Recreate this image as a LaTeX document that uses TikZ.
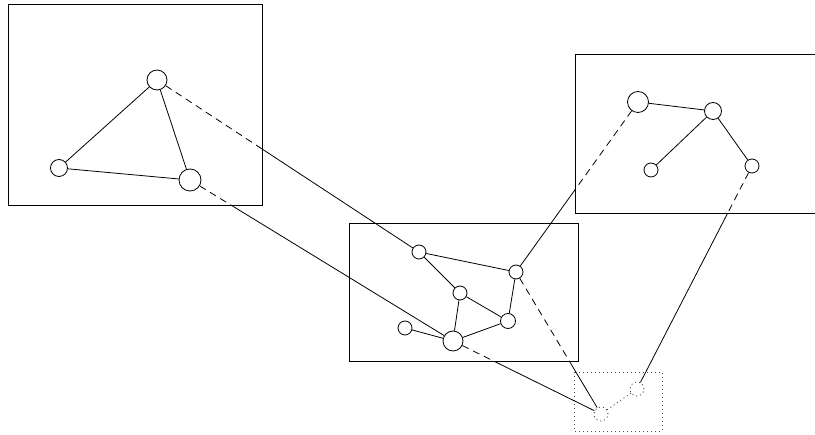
\documentclass[tikz,border=0pt]{standalone}
\usetikzlibrary{intersections}
\begin{document}
\begin{tikzpicture}[x=1pt,y=-1pt,
  frame/.style={line width=1pt},
  vtx/.style={circle,draw,line width=0.8pt,inner sep=0pt,fill=white},
  dotln/.style={line width=0.9pt,black!70,dash pattern=on 1pt off 3pt},
  gvtx/.style={circle,draw,dotln,inner sep=0pt},
  edge/.style={line width=0.8pt},
  dashedge/.style={line width=0.8pt,dash pattern=on 7pt off 5pt}]
\useasboundingbox (0,0) rectangle (815,435);
% frames
\draw[frame,name path=box1] (8,5) rectangle (262,206);
\draw[frame,name path=box2] (349,224) rectangle (578,362);
\draw[frame,name path=box3] (825,55) -- (575,55) -- (575,214) -- (825,214);
\draw[dotln] (574,372) rectangle (662,431);
% nodes
\node[vtx,minimum size=20pt] (t1) at (157,80) {};
\node[vtx,minimum size=17pt] (t2) at (59,168) {};
\node[vtx,minimum size=22pt] (t3) at (190,180) {};
\node[vtx,minimum size=14pt] (A) at (419,252) {};
\node[vtx,minimum size=14pt] (B) at (516,272) {};
\node[vtx,minimum size=14pt] (C) at (460,293) {};
\node[vtx,minimum size=15pt] (D) at (508,321) {};
\node[vtx,minimum size=14pt] (E) at (405,328) {};
\node[vtx,minimum size=20pt] (F) at (453,341) {};
\node[vtx,minimum size=21pt] (G) at (638,102) {};
\node[vtx,minimum size=17pt] (H) at (713,111) {};
\node[vtx,minimum size=14pt] (I) at (651,170) {};
\node[vtx,minimum size=14pt] (J) at (752,166) {};
\node[gvtx,minimum size=14pt] (K) at (601,414) {};
\node[gvtx,minimum size=14pt] (L) at (637,389) {};
% inner edges
\draw[edge] (t1) -- (t2) (t1) -- (t3) (t2) -- (t3);
\draw[edge] (A) -- (B) (A) -- (C) (C) -- (D) (C) -- (F) (B) -- (D) (D) -- (F) (E) -- (F);
\draw[edge] (G) -- (H) (H) -- (I) (H) -- (J);
\draw[dotln] (K) -- (L);
% cross edges: dashed inside source box, solid outside
\path[name path=l1] (t1) -- (A);
\path[name intersections={of=l1 and box1,by=x1}];
\draw[dashedge] (t1) -- (x1); \draw[edge] (x1) -- (A);
\path[name path=l2] (t3) -- (F);
\path[name intersections={of=l2 and box1,by=x2}];
\draw[dashedge] (t3) -- (x2); \draw[edge] (x2) -- (F);
\path[name path=l3] (G) -- (B);
\path[name intersections={of=l3 and box3,by=x3}];
\draw[dashedge] (G) -- (x3); \draw[edge] (x3) -- (B);
\path[name path=l4] (J) -- (L);
\path[name intersections={of=l4 and box3,by=x4}];
\draw[dashedge] (J) -- (x4); \draw[edge] (x4) -- (L);
\path[name path=l5] (F) -- (K);
\path[name intersections={of=l5 and box2,by=x5}];
\draw[dashedge] (F) -- (x5); \draw[edge] (x5) -- (K);
\path[name path=l6] (B) -- (K);
\path[name intersections={of=l6 and box2,by=x6}];
\draw[dashedge] (B) -- (x6); \draw[edge] (x6) -- (K);
\end{tikzpicture}
\end{document}
